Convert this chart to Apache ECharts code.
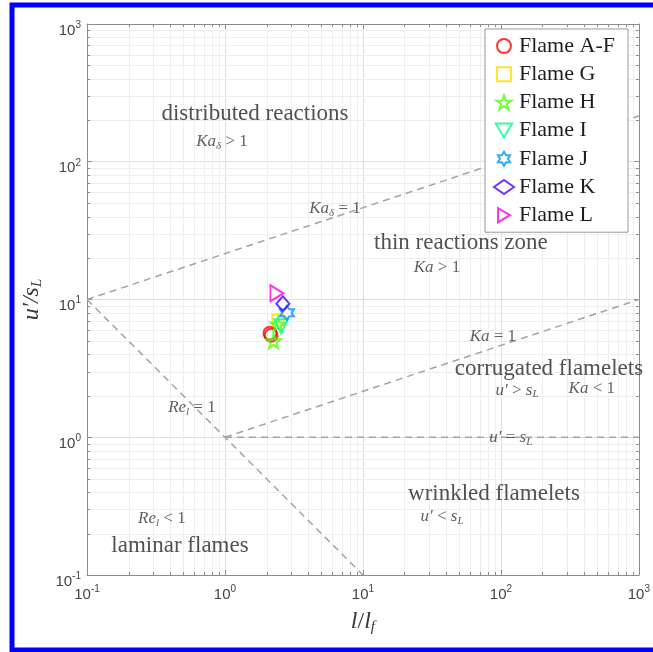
<!DOCTYPE html>
<html><head><meta charset="utf-8">
<script src="https://cdn.jsdelivr.net/npm/echarts@6/dist/echarts.min.js"></script>
<style>html,body{margin:0;padding:0;background:#fff}#c{width:653px;height:652px}</style>
</head><body><div id="c"></div>
<script>
// ---- data ----
const xMajorTicks = [0.1, 1, 10, 100, 1000];
const yMajorTicks = [0.1, 1, 10, 100, 1000];
const flameNames = ['Flame A-F', 'Flame G', 'Flame H', 'Flame I', 'Flame J', 'Flame K', 'Flame L'];
const flameColors = ['#ff0000', '#ffdb00', '#49ff00', '#00ff92', '#0092ff', '#4900ff', '#ff00db'];
const flameAF = [[2.12, 5.7], [2.16, 5.5]];
const flameG = [[2.42, 7.1]];
const flameH = [[2.25, 5.0], [2.42, 6.6]];
const flameI = [[2.55, 6.4]];
const flameJ = [[2.81, 8.0]];
const flameK = [[2.63, 9.3]];
const flameL = [[2.38, 11.1]];
const flameData = [flameAF, flameG, flameH, flameI, flameJ, flameK, flameL];
// regime boundaries (endpoints on log-log axes)
const lineKaDelta = [[0.1, 10], [1000, 215]];
const lineKa = [[1, 1], [1000, 10]];
const lineRe = [[0.1, 10], [10, 0.1]];
const lineUeqS = [[1, 1], [1000, 1]];
// annotation texts and their data positions
const annotationTexts = [
  '{rm|distributed reactions}',
  '{it|Ka}{sub|δ}{ms| > 1}',
  '{it|Ka}{sub|δ}{ms| = 1}',
  '{rm|thin reactions zone}',
  '{it|Ka}{ms| > 1}',
  '{it|Ka}{ms| = 1}',
  '{rm|corrugated flamelets}',
  '{it|u′}{ms| > }{it|s}{sub|L}',
  '{it|Ka}{ms| < 1}',
  '{it|u′}{ms| = }{it|s}{sub|L}',
  '{rm|wrinkled flamelets}',
  '{it|u′}{ms| < }{it|s}{sub|L}',
  '{it|Re}{sub|l}{ms| = 1}',
  '{it|Re}{sub|l}{ms| < 1}',
  '{rm|laminar flames}'
];
const annotationX = [1.65, 0.951, 6.27, 51.3, 34.4, 87.5, 223, 131, 456, 118, 89, 37.4, 0.576, 0.349, 0.472];
const annotationY = [222, 141, 45.4, 25.7, 17.2, 5.43, 3.13, 2.20, 2.24, 1.0, 0.387, 0.264, 1.63, 0.255, 0.163];

// ---- derived ----
const minorX = [], minorY = [];
xMajorTicks.slice(0, -1).forEach(d => { for (let k = 2; k <= 9; k++) minorX.push([k * d, 1]); });
yMajorTicks.slice(0, -1).forEach(d => { for (let k = 2; k <= 9; k++) minorY.push([1, k * d]); });

const starPath = 'path://M0,-10 L2.25,-3.09 L9.51,-3.09 L3.63,1.18 L5.88,8.09 L0,3.82 L-5.88,8.09 L-3.63,1.18 L-9.51,-3.09 L-2.25,-3.09 Z';
const hexPath = 'path://M0,-10 L2.89,-5 L8.66,-5 L5.77,0 L8.66,5 L2.89,5 L0,10 L-2.89,5 L-8.66,5 L-5.77,0 L-8.66,-5 L-2.89,-5 Z';
const triDownPath = 'path://M-10,-8 L10,-8 L0,9 Z';
const triRightPath = 'path://M-8,-10 L9,0 L-8,10 Z';
const squarePath = 'path://M0,0 L10,0 L10,10 L0,10 Z';
const flameSymbols = ['circle', squarePath, starPath, triDownPath, hexPath, 'diamond', triRightPath];
const flameSizes = [13, 11, 14, 14, 14, [13, 15], [13, 16]];

const serif = 'Liberation Serif';
const sans = 'Liberation Sans';
const tickRich = {
  b: { fontFamily: sans, fontSize: 15, color: '#444', lineHeight: 16, padding: [7, 0, 0, 0], verticalAlign: 'top' },
  s: { fontFamily: sans, fontSize: 10, color: '#444', lineHeight: 10, padding: [4, 0, 0, 0], verticalAlign: 'top' }
};
function tickFmt(v) {
  const e = Math.round(Math.log10(v));
  return '{b|10}{s|' + e + '}';
}
const textRich = {
  rm: { fontFamily: serif, fontSize: 23, color: '#262626', lineHeight: 24 },
  it: { fontFamily: serif, fontStyle: 'italic', fontSize: 17, color: '#383838', lineHeight: 20 },
  ms: { fontFamily: serif, fontSize: 17, color: '#383838', lineHeight: 20 },
  sub: { fontFamily: serif, fontStyle: 'italic', fontSize: 11, color: '#383838', lineHeight: 11, verticalAlign: 'bottom' }
};

function minorRender(isX) {
  return function (params, api) {
    const cs = params.coordSys;
    const l = cs.x, r = cs.x + cs.width, t = cs.y, b = cs.y + cs.height;
    const gridStyle = { stroke: '#eeeeee', lineWidth: 1 };
    const tickStyle = { stroke: '#8c8c8c', lineWidth: 1 };
    if (isX) {
      const px = Math.round(api.coord([api.value(0), 1])[0]) + 0.5;
      return { type: 'group', children: [
        { type: 'line', shape: { x1: px, y1: t, x2: px, y2: b }, style: gridStyle },
        { type: 'line', shape: { x1: px, y1: b, x2: px, y2: b - 3 }, style: tickStyle },
        { type: 'line', shape: { x1: px, y1: t, x2: px, y2: t + 3 }, style: tickStyle }
      ]};
    } else {
      const py = Math.round(api.coord([1, api.value(1)])[1]) + 0.5;
      return { type: 'group', children: [
        { type: 'line', shape: { x1: l, y1: py, x2: r, y2: py }, style: gridStyle },
        { type: 'line', shape: { x1: l, y1: py, x2: l + 3, y2: py }, style: tickStyle },
        { type: 'line', shape: { x1: r, y1: py, x2: r - 3, y2: py }, style: tickStyle }
      ]};
    }
  };
}

const axisCommon = {
  type: 'log', logBase: 10, min: 0.1, max: 1000, splitNumber: 4,
  axisLine: { show: true, lineStyle: { color: '#8c8c8c', width: 1 } },
  axisTick: { show: true, inside: true, length: 5, lineStyle: { color: '#8c8c8c' } },
  minorTick: { show: false },
  splitLine: { show: true, lineStyle: { color: '#dedede', width: 1 } }
};

const dashed = { type: [7, 5], color: '#a3a3a3', width: 1.5 };
function boundary(d) {
  return { type: 'line', data: d, showSymbol: false, symbol: 'none', silent: true, z: 3,
    lineStyle: dashed, emphasis: { disabled: true } };
}

const series = [
  { type: 'custom', renderItem: minorRender(true), data: minorX, silent: true, z: 1, encode: { x: 0, y: 1 } },
  { type: 'custom', renderItem: minorRender(false), data: minorY, silent: true, z: 1, encode: { x: 0, y: 1 } },
  boundary(lineKaDelta), boundary(lineKa), boundary(lineRe), boundary(lineUeqS),
  {
    type: 'scatter', silent: true, z: 4, symbolSize: 0.1,
    itemStyle: { color: 'rgba(0,0,0,0)' },
    label: { show: true, position: 'inside', rich: textRich, formatter: p => annotationTexts[p.dataIndex] },
    data: annotationX.map((x, i) => [x, annotationY[i]])
  }
];
flameNames.forEach((n, i) => {
  series.push({
    type: 'scatter', name: n, data: flameData[i], z: 5,
    symbol: flameSymbols[i], symbolSize: flameSizes[i],
    itemStyle: { color: 'rgba(255,255,255,0)', borderColor: flameColors[i], borderWidth: 2 }
  });
});

const chart = echarts.init(document.getElementById('c'), null, { renderer: 'canvas' });
chart.setOption({
  backgroundColor: '#fff',
  animation: false,
  grid: { left: 87, top: 24, right: 14, bottom: 77 },
  xAxis: [
    Object.assign({}, axisCommon, {
      position: 'bottom',
      axisLabel: { formatter: tickFmt, rich: tickRich, margin: 5 },
      name: '{i|l}{n|/}{i|l}{s|f}', nameLocation: 'middle', nameGap: 34,
      nameTextStyle: { rich: {
        i: { fontFamily: serif, fontStyle: 'italic', fontSize: 24, color: '#383838', lineHeight: 26 },
        n: { fontFamily: serif, fontSize: 24, color: '#383838', lineHeight: 26 },
        s: { fontFamily: serif, fontStyle: 'italic', fontSize: 15, color: '#383838', lineHeight: 15, verticalAlign: 'bottom' }
      } }
    }),
    Object.assign({}, axisCommon, { position: 'top', axisLabel: { show: false }, splitLine: { show: false } })
  ],
  yAxis: [
    Object.assign({}, axisCommon, {
      position: 'left',
      axisLabel: { formatter: tickFmt, rich: tickRich, margin: 6 },
      name: '{i|u′/s}{s|L}', nameLocation: 'middle', nameGap: 42,
      nameTextStyle: { rich: {
        i: { fontFamily: serif, fontStyle: 'italic', fontSize: 24, color: '#383838', lineHeight: 26 },
        s: { fontFamily: serif, fontStyle: 'italic', fontSize: 15, color: '#383838', lineHeight: 15, verticalAlign: 'bottom' }
      } }
    }),
    Object.assign({}, axisCommon, { position: 'right', axisLabel: { show: false }, splitLine: { show: false } })
  ],
  legend: {
    data: flameNames.map((n, i) => ({ name: n, icon: flameSymbols[i] })),
    orient: 'vertical', left: 485, top: 29,
    padding: [6, 9, 6, 8], itemWidth: 20, itemHeight: 14, itemGap: 6.2,
    backgroundColor: '#fff', borderColor: '#999', borderWidth: 1, borderRadius: 0,
    selectedMode: false,
    textStyle: { fontFamily: serif, fontSize: 22, color: '#1e1e1e', width: 100, lineHeight: 20 }
  },
  graphic: [{
    type: 'rect', silent: true, z: 100,
    shape: { x: 12, y: 5, width: 700, height: 645 },
    style: { fill: 'none', stroke: '#0000ff', lineWidth: 5 }
  }],
  series: series
});
</script></body></html>
